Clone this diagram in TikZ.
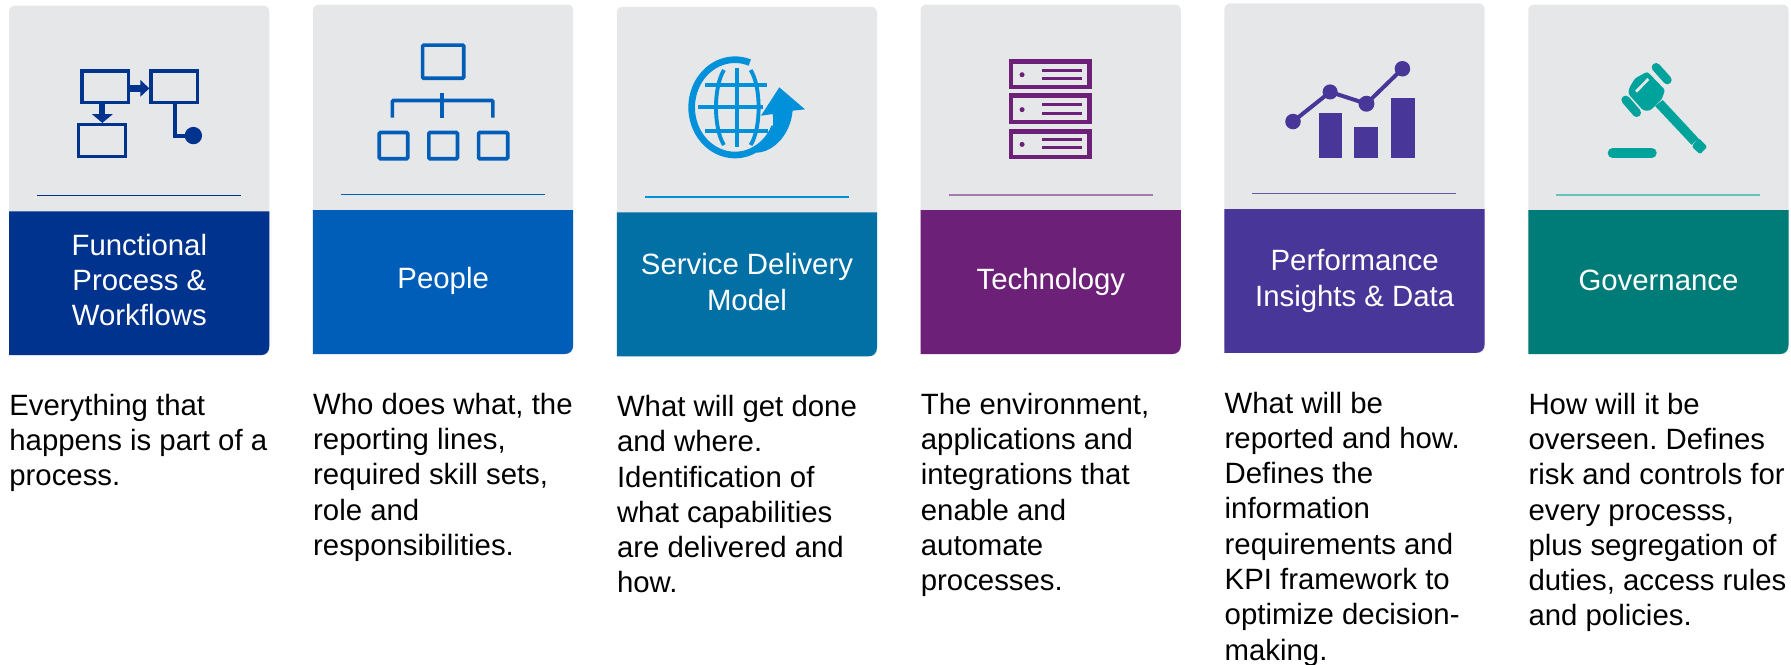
\documentclass[tikz,border=0pt]{standalone}
\usepackage{fontspec}
\setmainfont{Liberation Sans}
\definecolor{cardgrey}{HTML}{E6E7E9}
\definecolor{cA}{HTML}{00338D}
\definecolor{cB}{HTML}{005EB8}
\definecolor{cC}{HTML}{0270A4}
\definecolor{cCi}{HTML}{0091DA}
\definecolor{cD}{HTML}{6D2077}
\definecolor{cE}{HTML}{483698}
\definecolor{cF}{HTML}{007C78}
\definecolor{cFi}{HTML}{00A39B}
\tikzset{
  heading/.style={text=white,align=center,inner sep=0pt,font=\frenchspacing\fontsize{25.7}{30.9}\selectfont},
  bodytext/.style={text=black,align=left,inner sep=0pt,anchor=north west,font=\frenchspacing\fontsize{25.7}{30.9}\selectfont},
  rule/.style={line width=#1},
  icon/.style={line width=3.2pt},
}
\newcommand{\card}[9]{% name, left, top, color, rule color, rule width, heading, body, heading y
  \pgfmathsetmacro{\rgt}{#2+227.8}
  \pgfmathsetmacro{\hd}{#3+180}
  \pgfmathsetmacro{\bt}{#3+306}
  \pgfmathsetmacro{\rl}{#3+166.5}
  \fill[cardgrey,rounded corners=5pt] (#2,#3) rectangle (\rgt,\bt);
  \fill[#4] (#2,\hd) -- (\rgt,\hd) -- (\rgt,\bt-8) .. controls (\rgt,\bt-3) and (\rgt-3,\bt) .. (\rgt-8,\bt) -- (#2,\bt) -- cycle;
  \draw[rule=#6,#5] (#2+24.5,\rl) -- (#2+203,\rl);
  \node[heading] (#1h) at (#2+114,#3+#9) {#7};
  \node[bodytext] (#1b) at (#2,#3+339.8) {#8};
}
\begin{document}
\begin{tikzpicture}[x=1pt,y=-1pt]
\useasboundingbox (0,0) rectangle (1568,582);
\card{a}{8}{5}{cA}{cA}{1pt}{Functional\\Process \&\\Workflows}{Everything that\\happens is part of a\\process.}{240}
\card{b}{274}{4}{cB}{cB}{1pt}{People}{Who does what, the\\reporting lines,\\required skill sets,\\role and\\responsibilities.}{242.2}
\card{c}{540}{6}{cC}{cCi}{1pt}{Service Delivery\\Model}{What will get done\\and where.\\Identification of\\what capabilities\\are delivered and\\how.}{241}
\card{d}{806}{4}{cD}{cD!55!cardgrey}{1.4pt}{Technology}{The environment,\\applications and\\integrations that\\enable and\\automate\\processes.}{243}
\card{e}{1072}{3}{cE}{cE!80!cardgrey}{1pt}{Performance\\Insights \& Data}{What will be\\reported and how.\\Defines the\\information\\requirements and\\KPI framework to\\optimize decision-\\making.}{243}
\card{f}{1338}{4}{cF}{cFi!55!cardgrey}{1.4pt}{Governance}{How will it be\\overseen. Defines\\risk and controls for\\every processs,\\plus segregation of\\duties, access rules\\and policies.}{241.8}
% icon 1
\begin{scope}[icon,draw=cA,fill=cA]
\draw (71.6,62) rectangle (112.5,89.7);
\draw (132.3,62) rectangle (172.9,89.7);
\draw (68.7,109) rectangle (109.9,137);
\draw[line width=6.2pt] (113,77.6) -- (124,77.6);
\fill (123,70) -- (130.7,77.4) -- (123,84.6) -- cycle;
\draw[line width=5.2pt] (89.6,91) -- (89.6,101);
\fill (80.6,100) -- (98.7,100) -- (89.6,107.6) -- cycle;
\draw[line width=3.6pt] (153.5,91) -- (153.5,119) -- (165,119);
\fill (169.3,118.7) circle (7.6);
\end{scope}
% icon 2
\begin{scope}[icon,draw=cB]
\draw[rounded corners=1pt] (370,39.5) rectangle (406,68.5);
\draw[rounded corners=1pt] (343.5,103) -- (343.5,88) -- (431.5,88) -- (431.5,103);
\draw (387,81.5) -- (387,103);
\draw[rounded corners=1pt] (332,116) rectangle (357,139);
\draw[rounded corners=1pt] (375.5,116) rectangle (400.5,139);
\draw[rounded corners=1pt] (419,116) rectangle (444.5,139);
\end{scope}
% icon 3
\begin{scope}[shift={(577.8pt,-43.8pt)},x=0.2918pt,y=-0.2918pt,draw=cCi,fill=cCi]
\draw[line width=5.8pt] ([shift={(24:130 and 143)}]225,172) arc[start angle=24,end angle=290,x radius=130,y radius=143];
\begin{scope}[line width=3.4pt]
\draw (232,55) -- (232,290);
\draw (135,105) -- (320,105);
\draw (115,172) -- (308,172);
\draw (135,242) -- (325,242);
\draw (192,60) .. controls (160,110) and (160,235) .. (192,285);
\draw (272,60) .. controls (304,110) and (304,235) .. (272,285);
\end{scope}
\fill (358,112) -- (435,178) -- (398,182) .. controls (392,250) and (345,305) .. (290,308) .. controls (330,270) and (345,240) .. (338,192) -- (303,197) -- cycle;
\end{scope}
% icon 4
\begin{scope}[draw=cD,fill=cD]
\foreach \ta/\tb/\la/\lb/\dy in {53.7/76.2/61.6/68.6/65.4,83.7/106.9/91.4/99.2/96,115.2/137.5/122/129/126.4}{
  \draw[line width=4pt] (885.1,\ta) rectangle (953.7,\tb);
  \fill (894.8,\dy) circle (2.2);
  \draw[line width=2.6pt] (912.3,\la) -- (947.3,\la);
  \draw[line width=2.6pt] (912.3,\lb) -- (947.3,\lb);
}
\end{scope}
% icon 5
\begin{scope}[line width=3.5pt,draw=cE,fill=cE]
\fill (1155,99) rectangle (1175,138.3);
\fill (1185,111.4) rectangle (1206,138.3);
\fill (1218,86) rectangle (1239,138.3);
\draw (1132,106.4) -- (1164.5,80.5) -- (1196.3,90.8) -- (1227.8,60.2);
\fill (1132,106.4) circle (6.8);
\fill (1164.5,80.5) circle (6.6);
\fill (1196.3,90.8) circle (7);
\fill (1227.8,60.2) circle (6.8);
\end{scope}
% icon 6
\begin{scope}[shift={(1365.8pt,-35pt)},x=0.2918pt,y=-0.2918pt,draw=cFi,fill=cFi]
\draw[line width=8.8pt,line cap=round] (158,339) -- (275,339);
\draw[line width=7.6pt,line cap=round] (288,82) -- (322,120);
\draw[line width=7.6pt,line cap=round] (197,180) -- (230,218);
\fill[rounded corners=2pt] (262,95) -- (315,150) -- (305,178) -- (270,212) -- (250,212) -- (205,162) -- (207,145) -- (225,115) -- cycle;
\fill (308,180) -- (415,295) -- (395,315) -- (285,198) -- cycle;
\fill[rounded corners=2pt] (415,293) -- (442,320) -- (420,343) -- (395,320) -- cycle;
\draw[cardgrey,line width=2.4pt] (228,155) -- (265,117);
\end{scope}
\end{tikzpicture}
\end{document}
